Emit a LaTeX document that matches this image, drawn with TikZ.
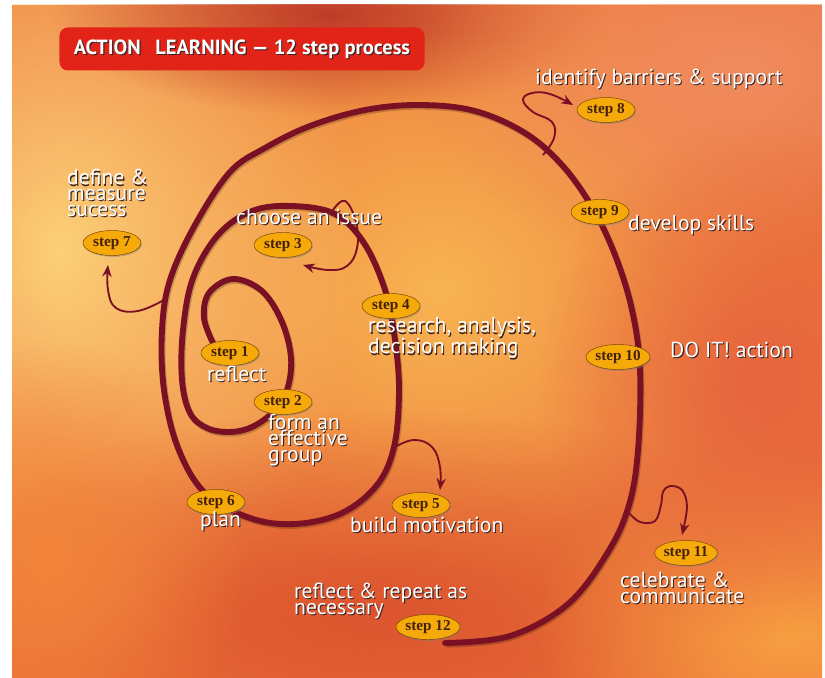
\documentclass[tikz,border=0pt]{standalone}
\usepackage{fontspec}
\setmainfont{PT Sans}
\newfontfamily\stepfont{Liberation Serif}
\usetikzlibrary{shapes.geometric, arrows.meta, positioning, calc, shadows, fadings}

\definecolor{spiralred}{RGB}{122,16,36}
\definecolor{gold}{RGB}{246,170,10}
\definecolor{goldline}{RGB}{120,66,6}
\definecolor{steptext}{RGB}{68,34,10}
\definecolor{titlered}{RGB}{226,36,24}
\definecolor{shade}{RGB}{55,35,35}
\definecolor{bgbase}{RGB}{236,114,58}

\tikzfading[name=blobfade, inner color=transparent!0, outer color=transparent!100]

\tikzset{
    stepnode/.style = {ellipse, draw=goldline, line width=0.4pt, fill=gold, minimum width=17.4mm, minimum height=7.5mm, inner sep=0pt, text=steptext, font=\stepfont\bfseries\fontsize{13}{13}\selectfont, drop shadow={shadow xshift=0.8pt, shadow yshift=-1.2pt, opacity=0.45}},
    lbl/.style = {text=white, font=\fontsize{18.5}{13.5}\selectfont, align=left, anchor=west, inner sep=0pt},
    titlebox/.style = {rectangle, rounded corners=2.5mm, fill=titlered, minimum width=109.5mm, minimum height=12.9mm},
    titletext/.style = {text=white, font=\bfseries\fontsize{17.5}{17.5}\selectfont, inner sep=0pt},
    spiralline/.style = {draw=spiralred, line width=5pt, line cap=round},
    arrow/.style = {draw=spiralred, line width=1.6pt, -{Stealth[length=10pt, width=8pt]}},
    blob/.style = {path fading=blobfade}
}

% white text with a dark shadow
\newcommand{\shadowlabel}[3]{%
  \node[lbl, text=shade] (#1-sh) at ([xshift=0.9pt, yshift=-1.1pt]#2) {#3};
  \node[lbl] (#1) at (#2) {#3};}

\begin{document}
\begin{tikzpicture}[x=0.3mm, y=-0.3mm]
\useasboundingbox (0,0) rectangle (825,678);
% background
\fill[white] (0,0) rectangle (825,678);
\begin{scope}
\clip (12,5) rectangle (822,678);
\fill[bgbase] (12,5) rectangle (822,678);
\fill[blob, color={rgb,255:red,248;green,180;blue,82}] (440,290) ellipse [x radius=420, y radius=380];
\fill[blob, color={rgb,255:red,252;green,208;blue,120}] (60,250) ellipse [x radius=300, y radius=420];
\fill[blob, color={rgb,255:red,190;green,60;blue,40}] (330,15) ellipse [x radius=280, y radius=100];
\fill[blob, color={rgb,255:red,240;green,140;blue,95}] (740,70) ellipse [x radius=320, y radius=200];
\fill[blob, color={rgb,255:red,220;green,84;blue,46}] (380,610) ellipse [x radius=480, y radius=200];
\fill[blob, color={rgb,255:red,248;green,160;blue,66}] (790,630) ellipse [x radius=260, y radius=180];
\fill[blob, color={rgb,255:red,230;green,100;blue,62}] (760,380) ellipse [x radius=220, y radius=260];
\fill[blob, color={rgb,255:red,242;green,132;blue,58}] (50,560) ellipse [x radius=200, y radius=220];
\end{scope}

% title
\node (title) [titlebox] at (242,49) {};
\node (title-sh) [titletext, text=shade] at ([xshift=1pt, yshift=-1.2pt]title.center) {ACTION\hspace{0.45em} LEARNING --- 12 step process};
\node (titletxt) [titletext] at (title.center) {ACTION\hspace{0.45em} LEARNING --- 12 step process};

% spiral
\draw[spiralline, preaction={draw=black, opacity=0.2, line width=5pt, transform canvas={shift={(1pt,-1.5pt)}}}]
  plot[smooth, tension=0.6] coordinates {
  (213,343) (204,318) (209,293) (233,279) (262,291) (282,322) (291,358) (287,390)
  (273,412) (252,427) (230,432) (207,428) (190,413) (182,380) (183,330) (193,278)
  (218,235) (252,211) (292,206) (335,214) (364,243) (385,290) (395,340) (399,392)
  (394,447) (377,485) (342,513) (295,524) (250,518) (205,493) (178,448) (164,390)
  (162,330) (170,280) (195,225) (230,172) (265,148) (310,126) (365,110) (420,105)
  (475,111) (525,133) (562,165) (592,207) (615,255) (632,310) (640,370) (638,450)
  (629,505) (608,552) (568,604) (510,636) (445,643)};

\coordinate (c3) at (333,210);
\coordinate (c5) at (395,447);
\coordinate (c7) at (164,300);
\coordinate (c8) at (543,155);
\coordinate (c11) at (628,512);

% steps
\node (s1) [stepnode] at (230,353) {step 1};
\node (s2) [stepnode] at (283,402) {step 2};
\node (s3) [stepnode] at (283,245) {step 3};
\node (s4) [stepnode] at (391,306) {step 4};
\node (s5) [stepnode] at (421,505) {step 5};
\node (s6) [stepnode] at (216,502) {step 6};
\node (s7) [stepnode] at (112,243) {step 7};
\node (s8) [stepnode] at (606,110) {step 8};
\node (s9) [stepnode] at (600,212) {step 9};
\node (s10) [stepnode] at (618,357) {step 10};
\node (s11) [stepnode] at (686,553) {step 11};
\node (s12) [stepnode] at (428,627) {step 12};

% arrows from the spiral
\draw[arrow] plot[smooth, tension=0.7] coordinates {(c3) (345,201) (356,222) (357,248) (347,266) (328,270) ($(s3)+(20,20)$)};
\draw[arrow] plot[smooth, tension=0.7] coordinates {(c5) (414,440) (432,447) (440,467) ($(s5)+(19,-15)$)};
\draw[arrow] plot[smooth, tension=0.7] coordinates {(c7) (138,311) (116,308) (108,290) ($(s7)+(-4,22)$)};
\draw[arrow] plot[smooth, tension=0.7] coordinates {(c8) (554,138) (552,122) (533,112) (523,100) (532,93) (550,94) ($(s8)+(-33,-5)$)};
\draw[arrow] plot[smooth, tension=0.6] coordinates {(c11) (640,522) (655,521) (661,505) (663,492) (670,486) (682,490) (687,507) ($(s11)+(-4,-18)$)};

% labels
\shadowlabel{l8}{535,79}{identify barriers \& support}
\shadowlabel{l7}{67,193}{define \&\\measure\\sucess}
\shadowlabel{l3}{236,217}{choose an issue}
\shadowlabel{l9}{628,225}{develop skills}
\shadowlabel{l4}{368,338}{research, analysis,\\decision making}
\shadowlabel{l10}{670,350}{DO IT! action}
\shadowlabel{l1}{207,374}{reflect}
\shadowlabel{l2}{268,440}{form an\\effective\\group}
\shadowlabel{l6}{200,521}{plan}
\shadowlabel{l5}{350,525}{build motivation}
\shadowlabel{l12}{294,601}{reflect \& repeat as\\necessary}
\shadowlabel{l11}{620,588}{celebrate \&\\communicate}
\end{tikzpicture}
\end{document}
